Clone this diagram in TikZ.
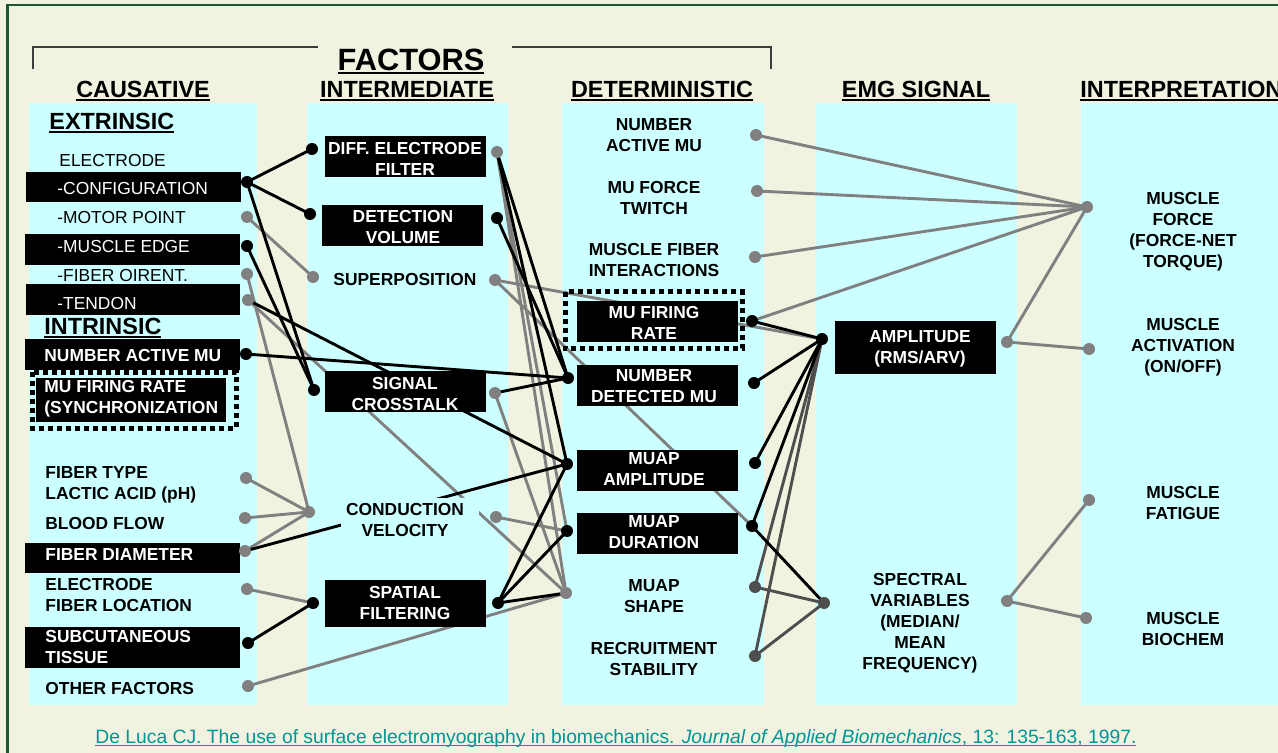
\documentclass[tikz,border=0pt]{standalone}
\usepackage{fontspec}
\setmainfont{Liberation Sans}

\definecolor{bgbeige}{RGB}{242,242,224}
\definecolor{panelcyan}{RGB}{204,255,255}
\definecolor{framegreen}{RGB}{24,88,52}
\definecolor{linegray}{RGB}{128,128,128}
\definecolor{darkline}{RGB}{78,78,78}
\definecolor{bracketgray}{RGB}{60,60,60}
\definecolor{citeteal}{RGB}{0,150,150}

% underlined text: drop, thickness, text
\newcommand{\hul}[3]{\setbox0=\hbox{#3}\rlap{\rule[-#1]{\wd0}{#2}}\box0}

\begin{document}
\begin{tikzpicture}[x=0.5pt,y=0.5pt,yscale=-1,
  every node/.style={inner sep=0pt},
  lbl/.style={font=\fontsize{8.7}{10.5}\selectfont\bfseries, align=center},
  wlbl/.style={lbl, text=white},
  llbl/.style={font=\fontsize{8.7}{10.5}\selectfont\bfseries, align=left, anchor=west},
  wllbl/.style={llbl, text=white},
  rlbl/.style={font=\fontsize{8.7}{10.5}\selectfont, anchor=west},
  wrlbl/.style={rlbl, text=white},
  head/.style={font=\fontsize{11.7}{13}\selectfont\bfseries, anchor=base},
  bline/.style={line width=1.45pt, black},
  gline/.style={line width=1.45pt, linegray},
  dline/.style={line width=1.45pt, darkline},
  dotbox/.style={line width=2.5pt, dash pattern={on 2.5pt off 2pt}}]
\useasboundingbox (0,0) rectangle (1278,753);

%Background and frame
\fill[bgbeige] (0,0) rectangle (1278,753);
\draw[framegreen, line width=1.4pt] (7.5,800) -- (7.5,5) -- (1300,5);

%Column panels
\fill[panelcyan] (29,103) rectangle (257,705);
\fill[panelcyan] (307,103) rectangle (508,705);
\fill[panelcyan] (562,103) rectangle (764,705);
\fill[panelcyan] (816,103) rectangle (1017,705);
\fill[panelcyan] (1081,103) rectangle (1300,705);

%Bracket over factors
\draw[bracketgray, line width=1pt] (33,69) -- (33,47) -- (318,47);
\draw[bracketgray, line width=1pt] (512,47) -- (771,47) -- (771,69);

% Text Node
\node[head, font=\fontsize{15.4}{17}\selectfont\bfseries] (hFac) at (411,71) {\hul{1.6pt}{1.2pt}{FACTORS}};
\node[head] (hCau) at (143,98) {\hul{1.5pt}{1pt}{CAUSATIVE}};
\node[head] (hInt) at (407,98) {\hul{1.5pt}{1pt}{INTERMEDIATE}};
\node[head] (hDet) at (662,98) {\hul{1.5pt}{1pt}{DETERMINISTIC}};
\node[head] (hEmg) at (916,98) {\hul{1.5pt}{1pt}{EMG SIGNAL}};
\node[head, anchor=base west] (hInp) at (1080,98) {\hul{1.5pt}{1pt}{INTERPRETATION}};

%Dot positions
\coordinate (c1cfg) at (247,182);
\coordinate (c1mot) at (247,217);
\coordinate (c1edg) at (247,246);
\coordinate (c1ori) at (247,274);
\coordinate (c1ten) at (248,300);
\coordinate (c1nam) at (246,354);
\coordinate (c1typ) at (246,478);
\coordinate (c1blo) at (245,518);
\coordinate (c1dia) at (245,551);
\coordinate (c1loc) at (247,589);
\coordinate (c1sub) at (248,643);
\coordinate (c1oth) at (248,686);
\coordinate (c2difL) at (312,149);
\coordinate (c2detL) at (310,214);
\coordinate (c2supL) at (313,277);
\coordinate (c2crsL) at (314,390);
\coordinate (c2conL) at (309,512);
\coordinate (c2spaL) at (313,603);
\coordinate (c2difR) at (497,152);
\coordinate (c2detR) at (497,218);
\coordinate (c2supR) at (495,280);
\coordinate (c2crsR) at (495,393);
\coordinate (c2conR) at (496,517);
\coordinate (c2spaR) at (498,603);
\coordinate (c3ndmL) at (568,378);
\coordinate (c3ampL) at (567,464);
\coordinate (c3durL) at (567,531);
\coordinate (c3shpL) at (566,593);
\coordinate (c3namR) at (756,135);
\coordinate (c3twiR) at (757,191);
\coordinate (c3intR) at (755,257);
\coordinate (c3firR) at (752,321);
\coordinate (c3ndmR) at (754,383);
\coordinate (c3ampR) at (755,463);
\coordinate (c3durR) at (752,526);
\coordinate (c3shpR) at (755,587);
\coordinate (c3recR) at (755,656);
\coordinate (c4ampL) at (822,339);
\coordinate (c4spcL) at (824,603);
\coordinate (c4ampR) at (1007,342);
\coordinate (c4spcR) at (1007,601);
\coordinate (c5frc) at (1087,207);
\coordinate (c5act) at (1089,349);
\coordinate (c5fat) at (1089,500);
\coordinate (c5bio) at (1086,618);

%Straight Lines (gray)
\draw[gline] (c1mot) -- (c2supL);
\draw[gline] (c1ori) -- (c2conL);
\draw[gline] (c1ten) -- (c3shpL);
\draw[gline] (c1typ) -- (c2conL);
\draw[gline] (c1blo) -- (c2conL);
\draw[gline] (c1dia) -- (c2conL);
\draw[gline] (c1loc) -- (c2spaL);
\draw[gline] (c1oth) -- (c3shpL);
\draw[gline] (c2difR) -- (c3durL);
\draw[gline] (c2difR) -- (c3shpL);
\draw[gline] (c2supR) -- (c4ampL);
\draw[gline] (c2supR) -- (c3durR);
\draw[gline] (c2crsR) -- (c3shpL);
\draw[gline] (c2conR) -- (c3durL);
\draw[gline] (c3namR) -- (c5frc);
\draw[gline] (c3twiR) -- (c5frc);
\draw[gline] (c3intR) -- (c5frc);
\draw[gline] (c3firR) -- (c5frc);
\draw[gline] (c4ampR) -- (c5frc);
\draw[gline] (c4ampR) -- (c5act);
\draw[gline] (c4spcR) -- (c5fat);
\draw[gline] (c4spcR) -- (c5bio);
%Straight Lines (dark gray)
\draw[dline] (c3shpR) -- (c4ampL);
\draw[dline] (c3shpR) -- (c4spcL);
\draw[dline] (c3recR) -- (c4ampL);
\draw[dline] (c3recR) -- (c4spcL);
%Straight Lines (black)
\draw[bline] (c1cfg) -- (c2difL);
\draw[bline] (c1cfg) -- (c2detL);
\draw[bline] (c1cfg) -- (c2crsL);
\draw[bline] (c1edg) -- (c2crsL);
\draw[bline] (c1ten) -- (c3ampL);
\draw[bline] (c1nam) -- (c3ndmL);
\draw[bline] (c1dia) -- (c3ampL);
\draw[bline] (c1sub) -- (c2spaL);
\draw[bline] (c2difR) -- (c3ndmL);
\draw[bline] (c2difR) -- (c3ampL);
\draw[bline] (c2detR) -- (c3ndmL);
\draw[bline] (c2crsR) -- (c3ndmL);
\draw[bline] (c2spaR) -- (c3ampL);
\draw[bline] (c2spaR) -- (c3durL);
\draw[bline] (c2spaR) -- (c3shpL);
\draw[bline] (c3firR) -- (c4ampL);
\draw[bline] (c3ndmR) -- (c4ampL);
\draw[bline] (c3ampR) -- (c4ampL);
\draw[bline] (c3durR) -- (c4ampL);
\draw[bline] (c3durR) -- (c4spcL);

%Label boxes
\fill (26,172) rectangle (241,202);
\fill (25,234) rectangle (240,265);
\fill (26,284) rectangle (240,315);
\fill (25,339) rectangle (240,370);
\fill (36,378) rectangle (226,422);
\draw[dotbox] (32,372) rectangle (236,428);
\fill (25,543) rectangle (240,573);
\fill (25,627) rectangle (240,668);
\fill (325,136) rectangle (486,177);
\fill (322,205) rectangle (483,246);
\fill (325,371) rectangle (486,412);
\fill[panelcyan] (341,498) rectangle (479,542);
\fill (325,580) rectangle (486,627);
\fill (577,301) rectangle (738,342);
\draw[dotbox] (565,292) rectangle (742,349);
\fill (577,365) rectangle (738,406);
\fill (577,450) rectangle (738,491);
\fill (577,513) rectangle (738,554);
\fill (835,321) rectangle (996,374);

% Text Node
\node[head, anchor=base west] (tExt) at (49,130) {\hul{1.5pt}{1pt}{EXTRINSIC}};
\node[rlbl] (tEle) at (59,161) {ELECTRODE};
\node[wrlbl] (tCfg) at (57,189) {-CONFIGURATION};
\node[rlbl] (tMot) at (57,218) {-MOTOR POINT};
\node[wrlbl] (tEdg) at (57,247) {-MUSCLE EDGE};
\node[rlbl] (tOri) at (57,276) {-FIBER OIRENT.};
\node[wrlbl] (tTen) at (57,304) {-TENDON};
\node[head, anchor=base west] (tInt) at (44,335) {\hul{1.5pt}{1pt}{INTRINSIC}};
\node[wllbl] (tNam) at (44,355.5) {NUMBER ACTIVE MU};
\node[wllbl] (tFir) at (44,399) {MU FIRING RATE\\(SYNCHRONIZATION};
\node[llbl] (tTyp) at (45,485) {FIBER TYPE\\LACTIC ACID (pH)};
\node[llbl] (tBlo) at (45,524) {BLOOD FLOW};
\node[wllbl] (tDia) at (45,555) {FIBER DIAMETER};
\node[llbl] (tLoc) at (45,595.5) {ELECTRODE\\FIBER LOCATION};
\node[wllbl] (tSub) at (45,647.5) {SUBCUTANEOUS\\TISSUE};
\node[llbl] (tOth) at (45,689) {OTHER FACTORS};

\node[wlbl] (tDif) at (405,159) {DIFF. ELECTRODE\\FILTER};
\node[wlbl] (tDtv) at (403,227.5) {DETECTION\\VOLUME};
\node[lbl] (tSup) at (405,280) {SUPERPOSITION};
\node[wlbl] (tCrs) at (405,394.5) {SIGNAL\\CROSSTALK};
\node[lbl] (tCon) at (405,520) {CONDUCTION\\VELOCITY};
\node[wlbl] (tSpa) at (405,603) {SPATIAL\\FILTERING};

\node[lbl] (tNac) at (654,135.5) {NUMBER\\ACTIVE MU};
\node[lbl] (tTwi) at (654,198.5) {MU FORCE\\TWITCH};
\node[lbl] (tMfi) at (654,260.5) {MUSCLE FIBER\\INTERACTIONS};
\node[wlbl] (tMfr) at (654,323) {MU FIRING\\RATE};
\node[wlbl] (tNdm) at (654,386) {NUMBER\\DETECTED MU};
\node[wlbl] (tMam) at (654,469.5) {MUAP\\AMPLITUDE};
\node[wlbl] (tMdu) at (654,532.5) {MUAP\\DURATION};
\node[lbl] (tMsh) at (654,596) {MUAP\\SHAPE};
\node[lbl] (tRec) at (654,659) {RECRUITMENT\\STABILITY};

\node[wlbl] (tAmp) at (920,349) {AMPLITUDE\\(RMS/ARV)};
\node[lbl] (tSpc) at (920,623) {SPECTRAL\\VARIABLES\\(MEDIAN/\\MEAN\\FREQUENCY)};

\node[lbl] (tFrc) at (1183,231.5) {MUSCLE\\FORCE\\(FORCE-NET\\TORQUE)};
\node[lbl] (tAct) at (1183,347) {MUSCLE\\ACTIVATION\\(ON/OFF)};
\node[lbl] (tFat) at (1183,503) {MUSCLE\\FATIGUE};
\node[lbl] (tBio) at (1183,629.5) {MUSCLE\\BIOCHEM};

\node[anchor=base west, text=citeteal, font=\fontsize{9.65}{11}\selectfont] (tCite) at (95,743) {\hul{1.4pt}{0.5pt}{De Luca CJ. The use of surface electromyography in biomechanics. \textit{Journal of Applied Biomechanics}, 13: 135-163, 1997.}};

%Dots
\fill[black] (c1cfg) circle[radius=3pt];
\fill[linegray] (c1mot) circle[radius=3pt];
\fill[black] (c1edg) circle[radius=3pt];
\fill[linegray] (c1ori) circle[radius=3pt];
\fill[linegray] (c1ten) circle[radius=3pt];
\fill[black] (c1nam) circle[radius=3pt];
\fill[linegray] (c1typ) circle[radius=3pt];
\fill[linegray] (c1blo) circle[radius=3pt];
\fill[linegray] (c1dia) circle[radius=3pt];
\fill[linegray] (c1loc) circle[radius=3pt];
\fill[black] (c1sub) circle[radius=3pt];
\fill[linegray] (c1oth) circle[radius=3pt];
\fill[black] (c2difL) circle[radius=3pt];
\fill[black] (c2detL) circle[radius=3pt];
\fill[linegray] (c2supL) circle[radius=3pt];
\fill[black] (c2crsL) circle[radius=3pt];
\fill[linegray] (c2conL) circle[radius=3pt];
\fill[black] (c2spaL) circle[radius=3pt];
\fill[linegray] (c2difR) circle[radius=3pt];
\fill[black] (c2detR) circle[radius=3pt];
\fill[linegray] (c2supR) circle[radius=3pt];
\fill[linegray] (c2crsR) circle[radius=3pt];
\fill[linegray] (c2conR) circle[radius=3pt];
\fill[black] (c2spaR) circle[radius=3pt];
\fill[black] (c3ndmL) circle[radius=3pt];
\fill[black] (c3ampL) circle[radius=3pt];
\fill[black] (c3durL) circle[radius=3pt];
\fill[linegray] (c3shpL) circle[radius=3pt];
\fill[linegray] (c3namR) circle[radius=3pt];
\fill[linegray] (c3twiR) circle[radius=3pt];
\fill[linegray] (c3intR) circle[radius=3pt];
\fill[black] (c3firR) circle[radius=3pt];
\fill[black] (c3ndmR) circle[radius=3pt];
\fill[black] (c3ampR) circle[radius=3pt];
\fill[black] (c3durR) circle[radius=3pt];
\fill[darkline] (c3shpR) circle[radius=3pt];
\fill[darkline] (c3recR) circle[radius=3pt];
\fill[black] (c4ampL) circle[radius=3pt];
\fill[darkline] (c4spcL) circle[radius=3pt];
\fill[linegray] (c4ampR) circle[radius=3pt];
\fill[linegray] (c4spcR) circle[radius=3pt];
\fill[linegray] (c5frc) circle[radius=3pt];
\fill[linegray] (c5act) circle[radius=3pt];
\fill[linegray] (c5fat) circle[radius=3pt];
\fill[linegray] (c5bio) circle[radius=3pt];

\end{tikzpicture}
\end{document}
